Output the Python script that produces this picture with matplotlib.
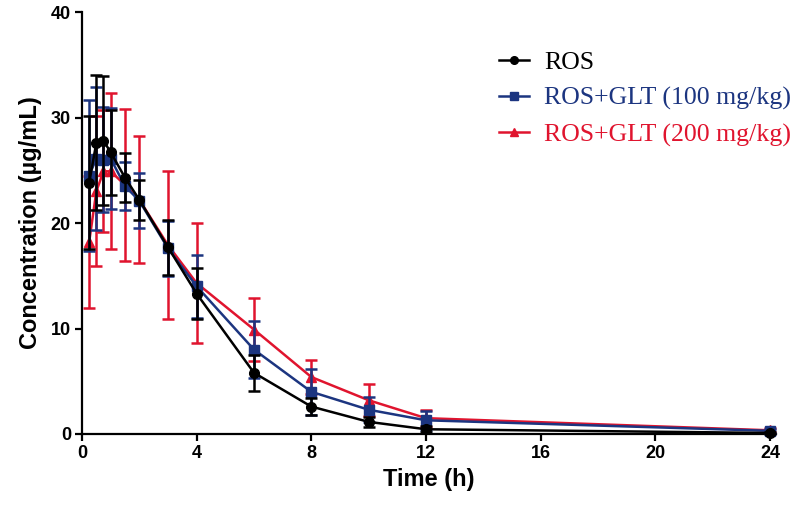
import matplotlib
matplotlib.use("Agg")
import matplotlib.pyplot as plt
from matplotlib.lines import Line2D

# 時間 (h)
time_h = [0.25, 0.5, 0.75, 1, 1.5, 2, 3, 4, 6, 8, 10, 12, 24]

# 平均濃度 (µg/mL) と SD
ros_mean = [23.8, 27.6, 27.8, 26.7, 24.3, 22.2, 17.7, 13.3, 5.8, 2.6, 1.15, 0.45, 0.1]
ros_sd = [6.3, 6.4, 6.1, 4.0, 2.3, 1.9, 2.6, 2.4, 1.7, 0.8, 0.5, 0.3, 0.1]

glt100_mean = [24.5, 26.1, 26.0, 26.1, 23.5, 22.1, 17.6, 14.0, 8.0, 4.0, 2.3, 1.3, 0.3]
glt100_sd = [7.2, 6.8, 5.0, 4.8, 2.3, 2.6, 2.6, 3.0, 2.7, 2.2, 1.2, 0.9, 0.2]

glt200_mean = [18.2, 23.0, 24.9, 24.9, 23.6, 22.2, 17.9, 14.3, 9.9, 5.4, 3.2, 1.5, 0.35]
glt200_sd = [6.3, 7.1, 5.8, 7.4, 7.2, 6.0, 7.0, 5.7, 3.0, 1.6, 1.5, 0.8, 0.2]

labels = ["ROS", "ROS+GLT (100 mg/kg)", "ROS+GLT (200 mg/kg)"]
colors = ["#000000", "#1c3580", "#e0142e"]
markers = ["o", "s", "^"]

x_ticks = [0, 4, 8, 12, 16, 20, 24]
y_ticks = [0, 10, 20, 30, 40]

sans_bold = {"family": "Liberation Sans", "weight": "bold"}

fig = plt.figure(figsize=(8, 5.11), dpi=100)
ax = fig.add_axes([82 / 800, 1 - 434 / 511, (775.7 - 82) / 800, (434 - 12) / 511])

series = [
    (ros_mean, ros_sd),
    (glt100_mean, glt100_sd),
    (glt200_mean, glt200_sd),
]

# 描画順: 赤 → 青 → 黒 (黒が一番上)
for i in [2, 1, 0]:
    mean, sd = series[i]
    ax.errorbar(
        time_h, mean, yerr=sd,
        color=colors[i], marker=markers[i], markersize=7,
        linewidth=1.8, elinewidth=1.8, capsize=4.5, capthick=1.8,
        clip_on=False, zorder=3 + (2 - i),
    )

ax.set_xlim(0, 24.2)
ax.set_ylim(0, 40)
ax.set_xticks(x_ticks)
ax.set_yticks(y_ticks)

for side in ["top", "right"]:
    ax.spines[side].set_visible(False)
for side in ["left", "bottom"]:
    ax.spines[side].set_linewidth(1.6)

ax.tick_params(axis="both", direction="out", length=5, width=1.6, pad=3)
for lab in ax.get_xticklabels() + ax.get_yticklabels():
    lab.set_fontfamily("Liberation Sans")
    lab.set_fontweight("bold")
    lab.set_fontsize(13)

ax.set_xlabel("Time (h)", fontsize=17, labelpad=4, **sans_bold)
ax.set_ylabel("Concentration (µg/mL)", fontsize=17, labelpad=6, **sans_bold)

# 凡例 (エラーバーなしの線とマーカー)
legend_handles = [
    Line2D([], [], color=c, marker=m, markersize=5.5, linewidth=1.8)
    for c, m in zip(colors, markers)
]
leg = fig.legend(
    legend_handles, labels,
    loc="upper left", bbox_to_anchor=(486 / 800, 1 - 38 / 511),
    frameon=False, borderpad=0, handlelength=1.15, handletextpad=0.6,
    labelspacing=0.5,
    prop={"family": "Liberation Serif", "size": 18.6},
)
for txt, c in zip(leg.get_texts(), colors):
    txt.set_color(c)

fig.savefig("out.png", dpi=100)
